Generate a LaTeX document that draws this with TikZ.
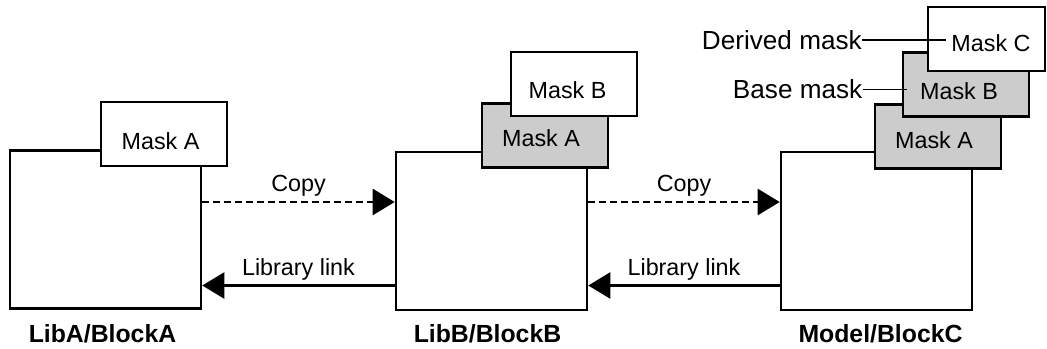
\documentclass[tikz,border=0pt]{standalone}
\usepackage{fontspec}
\setmainfont{Liberation Sans}
\usetikzlibrary{arrows.meta}
\definecolor{maskgray}{RGB}{204,204,204}
\begin{document}
\begin{tikzpicture}[x=0.75pt,y=-0.75pt,
  blockbox/.style={draw, line width=1.9pt, fill=white, inner sep=0pt,
    minimum width=143.25pt, minimum height=118.5pt},
  maskbox/.style={draw, line width=1.9pt, inner sep=0pt,
    minimum width=94.5pt, minimum height=48pt},
  basemask/.style={maskbox, fill=maskgray},
  topmask/.style={maskbox, fill=white},
  masktext/.style={inner sep=0pt, font=\fontsize{17.5}{20}\selectfont},
  edgetext/.style={inner sep=0pt, font=\fontsize{17.5}{20}\selectfont},
  annotext/.style={inner sep=0pt, font=\fontsize{19.6}{23}\selectfont},
  titletext/.style={inner sep=0pt, font=\fontsize{18.6}{22}\selectfont\bfseries},
  copyarrow/.style={line width=1.8pt, dash pattern=on 5.25pt off 3pt,
    -{Triangle[length=16.5pt,width=19.5pt]}},
  linkarrow/.style={line width=1.8pt, -{Triangle[length=16.5pt,width=19.5pt]}},
  annoline/.style={line width=1pt}
]
\useasboundingbox (0,0) rectangle (1047,349);

% coordinates for connector heights
\coordinate (cy) at (0,202);
\coordinate (ly) at (0,285.5);

% Block A
\node[blockbox] (A) at (105.5,229.5) {};
\node[topmask] (AmA) at (164,134) {};
\node[masktext] (AmAt) at (160.5,141) {Mask A};

% Block B
\node[blockbox] (B) at (491.5,231) {};
\node[basemask] (BmA) at (545,135.5) {};
\node[masktext] (BmAt) at (541,138.5) {Mask A};
\node[topmask] (BmB) at (574,84) {};
\node[masktext] (BmBt) at (567.5,90.5) {Mask B};

% Block C
\node[blockbox] (C) at (876.5,231) {};
\node[basemask] (CmA) at (938,136.5) {};
\node[masktext] (CmAt) at (934,140) {Mask A};
\node[basemask] (CmB) at (966,84.5) {};
\node[masktext] (CmBt) at (959,91.5) {Mask B};
\node[topmask, minimum width=87.75pt] (CmC) at (986.5,39) {};
\node[masktext] (CmCt) at (991,43.5) {Mask C};

% connectors
\draw[copyarrow] (A.east |- cy) -- node[edgetext, anchor=base, yshift=7.5pt] (cp1) {Copy} (B.west |- cy);
\draw[copyarrow] (B.east |- cy) -- node[edgetext, anchor=base, yshift=7.5pt] (cp2) {Copy} (C.west |- cy);
\draw[linkarrow] (B.west |- ly) -- node[edgetext, anchor=base, yshift=7.5pt] (ll1) {Library link} (A.east |- ly);
\draw[linkarrow] (C.west |- ly) -- node[edgetext, anchor=base, yshift=7.5pt] (ll2) {Library link} (B.east |- ly);

% titles
\node[titletext, anchor=base] (tA) at (102.5,342) {LibA/BlockA};
\node[titletext, anchor=base] (tB) at (487.5,342) {LibB/BlockB};
\node[titletext, anchor=base] (tC) at (880.5,342) {Model/BlockC};

% annotations
\node[annotext, anchor=east] (dm) at (862,40) {Derived mask};
\node[annotext, anchor=east] (bm) at (862.5,89.5) {Base mask};
\coordinate (dmEnd) at (946,40);
\coordinate (bmEnd) at (907,89.5);
\draw[annoline] (dm.east) -- (dmEnd);
\draw[annoline] (bm.east) -- (bmEnd);
\end{tikzpicture}
\end{document}
